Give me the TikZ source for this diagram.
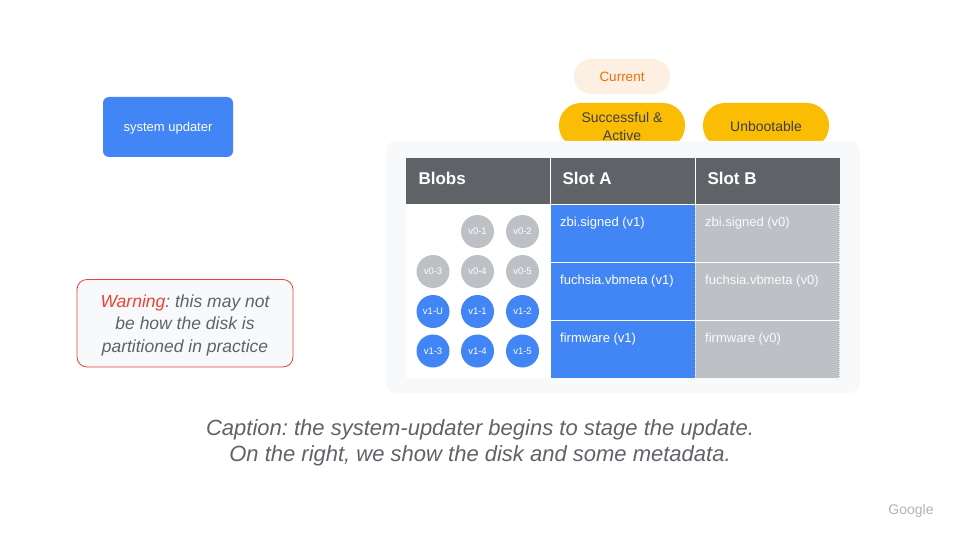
\documentclass[tikz,border=0pt]{standalone}
\usepackage{fontspec}
\setmainfont{Liberation Sans}
\frenchspacing
\definecolor{gblue}{HTML}{4285F4}
\definecolor{ggray}{HTML}{BDC1C6}
\definecolor{gdark}{HTML}{5F6368}
\definecolor{gpanel}{HTML}{F8F9FA}
\definecolor{gyellow}{HTML}{FBBC04}
\definecolor{gpeach}{HTML}{FEEFE3}
\definecolor{gorange}{HTML}{E8710A}
\definecolor{gred}{HTML}{EA4335}
\definecolor{gtext}{HTML}{3C4043}
\tikzset{
  headtext/.style={anchor=west, text=white, font=\bfseries\fontsize{17}{20}\selectfont},
  celltext/.style={anchor=north west, text=white, font=\fontsize{13}{15}\selectfont, inner sep=0pt},
  blob/.style={circle, minimum size=33pt, inner sep=0pt, text=white, font=\fontsize{9.5}{11}\selectfont},
  oldblob/.style={blob, fill=ggray},
  newblob/.style={blob, fill=gblue},
  pilltext/.style={text=gtext, align=center, font=\fontsize{14}{18}\selectfont},
}
\begin{document}
\begin{tikzpicture}[x=1pt,y=-1pt]
\useasboundingbox (0,0) rectangle (960,540);
\fill[white] (0,0) rectangle (960,540);

% updater box
\fill[gblue, rounded corners=6pt] (103,97) rectangle (233,157);
\node[text=white, font=\fontsize{13}{15}\selectfont] (upd) at (168,128) {system updater};

% state pills
\fill[gpeach, rounded corners=17pt] (574,59) rectangle (670,94);
\node[text=gorange, font=\fontsize{13.5}{16}\selectfont] (cur) at (622,77) {Current};
\fill[gyellow, rounded corners=22pt] (559,103) rectangle (685,148);
\node[pilltext] (pa) at (622,126) {Successful \&\\Active};
\fill[gyellow, rounded corners=22pt] (703,103) rectangle (829,148);
\node[pilltext] (pb) at (766,126) {Unbootable};

% disk panel
\fill[gpanel, rounded corners=10pt] (386,141) rectangle (860,393);

% header row
\fill[gdark] (406,158) rectangle (840,204);
\draw[white, line width=1.2pt] (550.5,158) -- (550.5,204) (695.5,158) -- (695.5,204);
\node[headtext] (hblobs) at (415,178) {Blobs};
\node[headtext] (ha) at (559,178) {Slot A};
\node[headtext] (hb) at (704,178) {Slot B};

% body
\fill[white] (406,204) rectangle (551,378);
\fill[gblue] (551,205) rectangle (695,378);
\fill[ggray] (695,205) rectangle (840,378);
\draw[white, line width=1.2pt] (551,262.5) -- (840,262.5) (551,320.5) -- (840,320.5);
\draw[white, dash pattern=on 1pt off 1pt, line width=0.6pt] (695.5,205) -- (695.5,378) (839.5,205) -- (839.5,378);
\draw[white, line width=1.2pt] (551,204.5) -- (840,204.5);

\node[celltext] (a1) at (560,217) {zbi.signed (v1)};
\node[celltext] (a2) at (560,275) {fuchsia.vbmeta (v1)};
\node[celltext] (a3) at (560,333) {firmware (v1)};
\node[celltext, text=white!92!ggray] (b1) at (705,217) {zbi.signed (v0)};
\node[celltext, text=white!92!ggray] (b2) at (705,275) {fuchsia.vbmeta (v0)};
\node[celltext, text=white!92!ggray] (b3) at (705,333) {firmware (v0)};

% blobs
\node[oldblob] (v01) at (477.5,231.5) {v0-1};
\node[oldblob] (v02) at (522.5,231.5) {v0-2};
\node[oldblob] (v03) at (433,271.5) {v0-3};
\node[oldblob] (v04) at (477.5,271.5) {v0-4};
\node[oldblob] (v05) at (522.5,271.5) {v0-5};
\node[newblob] (v1u) at (433,311.5) {v1-U};
\node[newblob] (v11) at (477.5,311.5) {v1-1};
\node[newblob] (v12) at (522.5,311.5) {v1-2};
\node[newblob] (v13) at (433,351) {v1-3};
\node[newblob] (v14) at (477.5,351) {v1-4};
\node[newblob] (v15) at (522.5,351) {v1-5};

% warning
\draw[gred, fill=gpanel, rounded corners=10pt, line width=0.8pt] (77,279.5) rectangle (293,367);
\node[align=center, text=gdark, font=\itshape\fontsize{17.5}{22.5}\selectfont] (warn) at (185,325)
  {\textcolor{gred}{Warning}: this may not\\be how the disk is\\partitioned in practice};

% caption
\node[align=center, text=gdark, font=\itshape\fontsize{22}{26}\selectfont] (cap) at (480,443)
  {Caption: the system-updater begins to stage the update.\\On the right, we show the disk and some metadata.};

% logo
\node[text=ggray!85!gdark, font=\fontsize{14}{16}\selectfont] (logo) at (911,511) {Google};
\end{tikzpicture}
\end{document}
